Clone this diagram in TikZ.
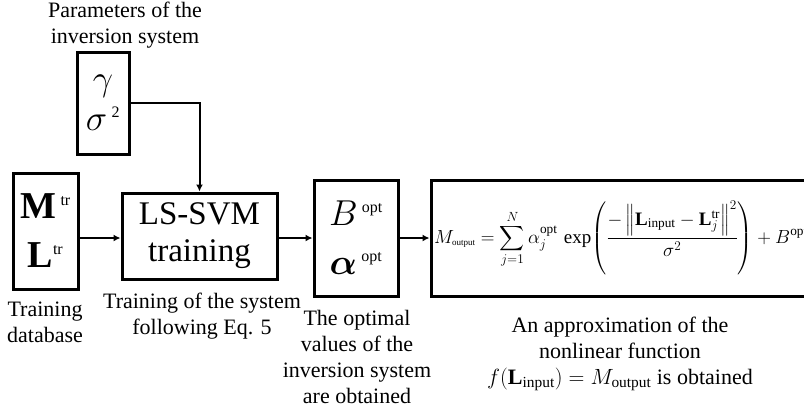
\RequirePackage{fix-cm}
\documentclass[tikz,border=0pt]{standalone}
\usepackage{fontspec}
\setmainfont{Liberation Serif}
\usepackage{amsmath}
\usetikzlibrary{arrows.meta}
\newcommand{\smallsup}[1]{\text{\fontsize{16}{16}\selectfont #1}}

\begin{document}
\begin{tikzpicture}[x=1pt,y=-1pt,
    box/.style={shape=rectangle,draw=black,line width=3pt,inner sep=0pt,align=center},
    note/.style={align=center,font=\fontsize{22}{26}\selectfont},
    flow/.style={line width=2pt,-{Latex[length=7pt,width=7pt]}}]
    \useasboundingbox (0,0) rectangle (804,408);
    \clip (0,0) rectangle (804,408);

    \node[box,minimum width=52,minimum height=102,font=\fontsize{36}{40}\selectfont] (P) at (103,103) {$\gamma$\\$\sigma^{\,\smallsup{2}}$};
    \node[box,minimum width=65,minimum height=116,font=\fontsize{38}{49}\selectfont] (D) at (45.5,231) {$\mathbf{M}^{\,\smallsup{tr}}$\\$\mathbf{L}^{\smallsup{tr}}$};
    \node[box,minimum width=155,minimum height=86,font=\fontsize{33}{37}\selectfont] (T) at (199.5,236) {LS-SVM\\training};
    \node[box,minimum width=84,minimum height=116,font=\fontsize{36}{49}\selectfont] (O) at (356,238) {$B^{\,\smallsup{opt}}$\\$\boldsymbol{\alpha}^{\,\smallsup{opt}}$};
    \node[box,minimum width=420,minimum height=116] (F) at (641,238) {};
    \node[anchor=west,inner sep=0pt,font=\fontsize{19}{22}\selectfont] (E) at (434,238)
        {$\displaystyle M_{\text{\small output}} = \sum_{j=1}^{N}\alpha_j^{\text{opt}}\,\exp\!\left(\frac{-\left\|\mathbf{L}_{\text{input}}-\mathbf{L}_j^{\text{tr}}\right\|^{2}}{\sigma^{2}}\right)+B^{\text{opt}}$};

    \node[note] (p) at (125,25) {Parameters of the\\inversion system};
    \node[note] (d) at (45,322) {Training\\database};
    \node[note] (t) at (202,316) {Training of the system\\following Eq. 5};
    \node[note] (o) at (357,357) {The optimal\\values of the\\inversion system\\are obtained};
    \node[note] (f) at (620,354) {An approximation of the\\nonlinear function\\$f(\mathbf{L}_{\text{input}}) = M_{\text{output}}$ is obtained};

    \draw[flow] (P.east) -| (T.north);
    \draw[flow] (D.east |- O.west) -- (T.west |- O.west);
    \draw[flow] (T.east |- O.west) -- (O.west);
    \draw[flow] (O.east) -- (F.west);
\end{tikzpicture}
\end{document}
